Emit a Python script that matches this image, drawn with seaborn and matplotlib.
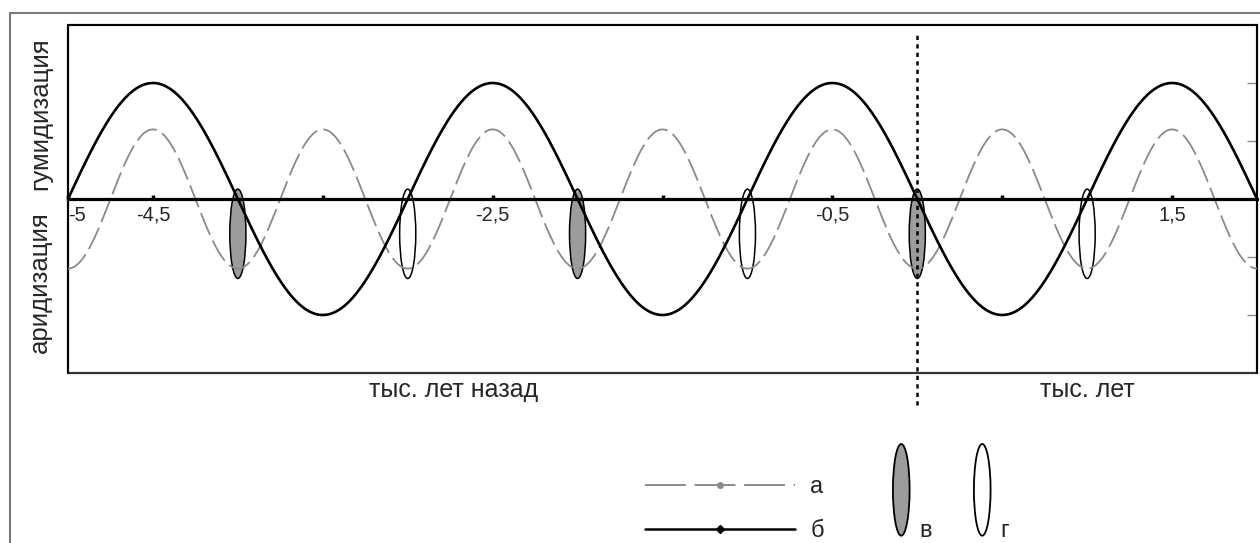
import numpy as np
import pandas as pd
import seaborn as sns
import matplotlib
import matplotlib.pyplot as plt
from matplotlib.patches import Ellipse, Rectangle
from matplotlib.lines import Line2D
from matplotlib.legend_handler import HandlerPatch
import matplotlib.transforms as mtransforms

matplotlib.use('Agg')

# --- data ---
curve_labels = ['а', 'б']          # а - короткий цикл, б - длинный цикл
curve_amplitudes = [0.6, 1.0]
curve_periods = [1.0, 2.0]         # тыс. лет
curve_peaks = [-4.5, -4.5]         # положение одного из максимумов
x_range = [-5.0, 2.0]

event_x = [-4, -3, -2, -1, 0, 1]
event_kind = ['в', 'г', 'в', 'г', 'в', 'г']

tick_pos = [-5, -4.5, -3.5, -2.5, -1.5, -0.5, 0.5, 1.5]
tick_labels = ['-5', '-4,5', '', '-2,5', '', '-0,5', '', '1,5']
right_ticks = [-1, -0.5, 0.5, 1]

# build the curves from the read parameters
xs = np.linspace(x_range[0], x_range[1], 1401)
rows = []
for lab, amp, per, pk in zip(curve_labels, curve_amplitudes, curve_periods, curve_peaks):
	ys = amp * np.cos(2 * np.pi * (xs - pk) / per)
	rows.append(pd.DataFrame({'x': xs, 'y': ys, 'series': lab}))
df = pd.concat(rows, ignore_index=True)

sns.set_theme(style='white')
plt.rcParams['font.family'] = ['Liberation Sans', 'DejaVu Sans']

fig = plt.figure(figsize=(12.6, 5.43), dpi=100)
ax = fig.add_axes([68 / 1260, 1 - 373 / 543, (1257 - 68) / 1260, (373 - 25) / 543])

# ellipses (events) under the lines
for xe, kind in zip(event_x, event_kind):
	fc = '#9c9c9c' if kind == 'в' else 'none'
	ax.add_patch(Ellipse((xe, -0.30), width=0.095, height=0.77,
						 facecolor=fc, edgecolor='black', lw=1.1, zorder=1))

sns.lineplot(data=df, x='x', y='y', hue='series', style='series', size='series',
			 palette={'а': '#8a8a8a', 'б': 'black'},
			 dashes={'а': (13, 3.5), 'б': ''},
			 sizes={'а': 1.3, 'б': 1.9},
			 legend=False, ax=ax, zorder=3)

ax.set_xlim(*x_range)
ax.set_ylim(-1.5, 1.5)
ax.set_xlabel('')
ax.set_ylabel('')

# frame + zero line as x axis
for s in ['left', 'top', 'right']:
	ax.spines[s].set_color('black')
	ax.spines[s].set_linewidth(1.3)
ax.spines['bottom'].set_position(('data', 0))
ax.spines['bottom'].set_color('black')
ax.spines['bottom'].set_linewidth(2.3)
ax.spines['bottom'].set_zorder(4)
ax.patch.set_edgecolor('#333333')
ax.patch.set_linewidth(1.6)

ax.set_xticks(tick_pos)
ax.set_xticklabels(tick_labels)
ax.tick_params(axis='x', direction='in', length=3, width=2.5, color='black',
			   pad=5, labelsize=14.5, bottom=True)
ax.get_xticklabels()[0].set_horizontalalignment('left')

ax.yaxis.tick_right()
ax.set_yticks(right_ticks)
ax.tick_params(axis='y', direction='in', length=7, width=1, color='#8a8a8a',
			   labelright=False, right=True, left=False)

# present day marker
ax.axvline(0, ymin=-0.092, ymax=0.98, color='black', lw=1.8,
		   linestyle=(0, (1.7, 1.7)), clip_on=False, zorder=5)

blend = mtransforms.blended_transform_factory(ax.transData, ax.transAxes)
ax.text(-2.73, -0.05, 'тыс. лет назад', transform=blend, ha='center', va='center', fontsize=18)
ax.text(1.0, -0.05, 'тыс. лет', transform=blend, ha='center', va='center', fontsize=18)

fig.text(40 / 1260, 1 - 114 / 543, 'гумидизация', rotation=90, ha='center', va='center', fontsize=18.5)
fig.text(40 / 1260, 1 - 282 / 543, 'аридизация', rotation=90, ha='center', va='center', fontsize=18.5)

# legends
line_handles = [
	Line2D([], [], color='#8a8a8a', lw=1.4, dashes=(21, 4.5), marker='o', markersize=4),
	Line2D([], [], color='black', lw=1.8, marker='D', markersize=4.5),
]
fig.legend(line_handles, curve_labels, loc='center left',
		   bbox_to_anchor=(645 / 1260, 1 - 509 / 543), frameon=False, fontsize=17,
		   handlelength=6.35, handletextpad=0.65, labelspacing=0.95,
		   borderpad=0, borderaxespad=0)


class HandlerEllipse(HandlerPatch):
	def create_artists(self, legend, orig_handle, xdescent, ydescent, width, height, fontsize, trans):
		cx = -xdescent + width / 2
		cy = -ydescent + height / 2 + 28
		p = Ellipse((cx, cy), 12, 66)
		self.update_prop(p, orig_handle, legend)
		p.set_transform(trans)
		return [p]


ell_handles = [
	Ellipse((0, 0), 1, 1, facecolor='#9c9c9c', edgecolor='black', lw=1.3),
	Ellipse((0, 0), 1, 1, facecolor='white', edgecolor='black', lw=1.3),
]
fig.legend(ell_handles, ['в', 'г'], handler_map={Ellipse: HandlerEllipse()},
		   ncol=2, loc='center left', bbox_to_anchor=(893 / 1260, 1 - 531 / 543),
		   frameon=False, fontsize=17, handlelength=0.7, handletextpad=0.4,
		   columnspacing=1.8, borderpad=0, borderaxespad=0)

# outer gray frame
fig.add_artist(Rectangle((10 / 1260, -0.05), 1.1, 1.05 - 13 / 543,
						 transform=fig.transFigure, fill=False, ec='#7a7a7a', lw=1.5))

fig.savefig('out.png', dpi=100)
